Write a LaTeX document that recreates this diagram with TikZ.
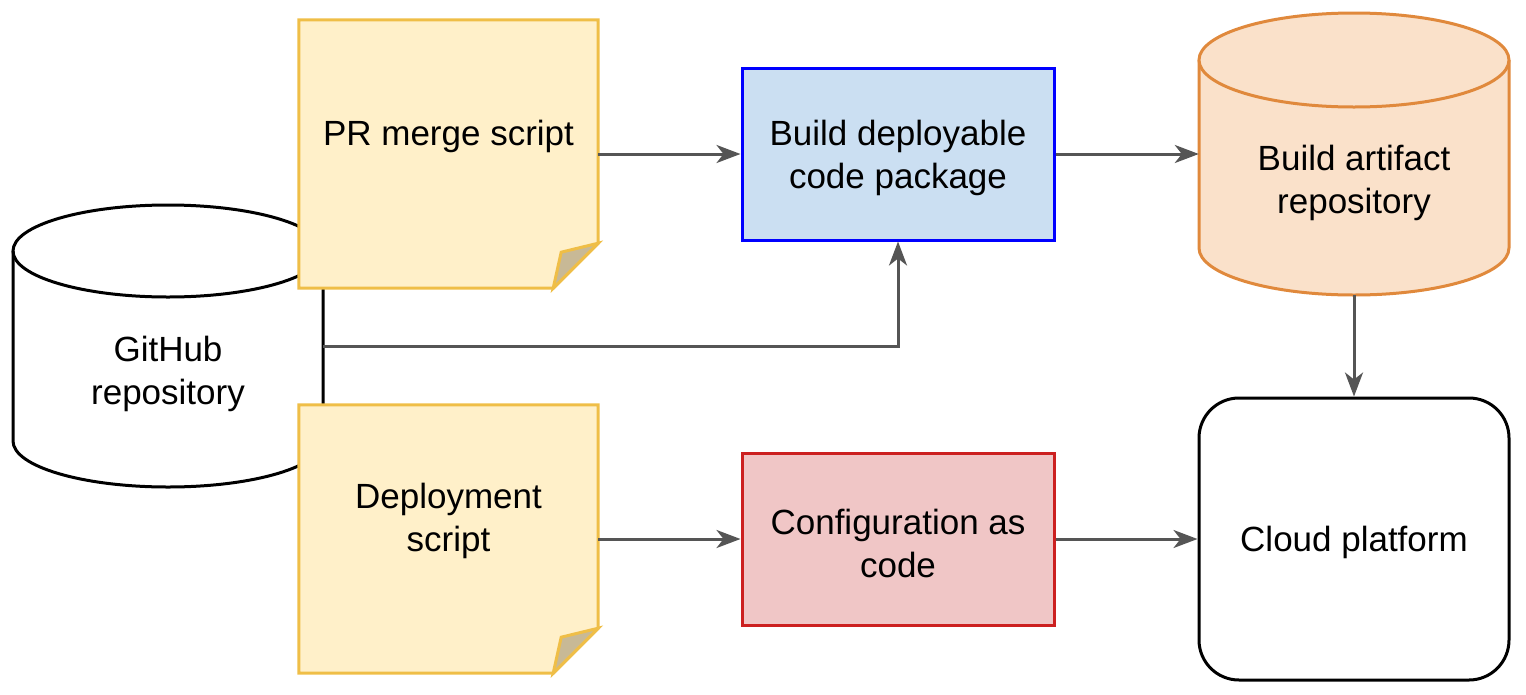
\documentclass[tikz,border=0pt]{standalone}
\usepackage{fontspec}
\setmainfont{Liberation Sans}
\usetikzlibrary{arrows.meta, positioning}

\definecolor{notefill}{HTML}{FFF0C9}
\definecolor{notedraw}{HTML}{EFBE47}
\definecolor{foldfill}{HTML}{C8B996}
\definecolor{buildfill}{HTML}{CBDFF2}
\definecolor{buildline}{HTML}{0000FF}
\definecolor{conffill}{HTML}{F0C6C6}
\definecolor{confline}{HTML}{CC2020}
\definecolor{artfill}{HTML}{FAE1CA}
\definecolor{artline}{HTML}{E0893C}
\definecolor{flowgray}{HTML}{555555}

\begin{document}
\begin{tikzpicture}[
  x=1pt, y=-1pt,
  font=\fontsize{35}{43}\selectfont,
  every node/.style={align=center, text=black},
  area/.style={draw=none, fill=none, inner sep=0pt, minimum width=#1},
  notebody/.style={draw=notedraw, fill=notefill, line width=3pt, line join=miter},
  foldpart/.style={draw=notedraw, fill=foldfill, line width=3pt, line join=miter},
  procbox/.style={draw=#1, line width=3pt, minimum width=312pt, minimum height=172pt, inner sep=0pt},
  flow/.style={draw=flowgray, line width=3pt, -{Stealth[length=24pt, width=18pt, inset=7pt]}}]

\useasboundingbox (0,0) rectangle (1526,694);

%GitHub repository cylinder
\node[area=310pt, minimum height=282pt] (git) at (168,346) {};
\filldraw[black, fill=white, line width=3pt] (13,251) -- (13,441)
  arc[start angle=180, end angle=360, x radius=155pt, y radius=46pt] -- (323,251);
\draw[black, line width=3pt] (168,251) ellipse[x radius=155pt, y radius=46pt];
\node (gittext) at (168,374) {GitHub\\repository};

%Notes with folded corner
\node[area=299pt, minimum height=268pt] (prnote) at (448.5,154) {};
\node[area=299pt, minimum height=268pt] (deploynote) at (448.5,539) {};
\foreach \n in {prnote, deploynote}{
  \draw[notebody] (\n.north west) -- (\n.north east) -- ([yshift=45pt]\n.south east)
    -- ([xshift=-45pt]\n.south east) -- (\n.south west) -- cycle;
  \draw[foldpart] ([yshift=45pt]\n.south east) -- ([xshift=-37pt, yshift=36pt]\n.south east)
    -- ([xshift=-45pt]\n.south east) -- cycle;
}
\node (prtext) at ([yshift=18pt]prnote.center) {PR merge script};
\node (deploytext) at ([yshift=18pt]deploynote.center) {Deployment\\script};

%Middle boxes
\node[procbox=buildline, fill=buildfill] (build) at (898,154) {};
\node (buildtext) at ([yshift=-4pt]build.center) {Build deployable\\code package};
\node[procbox=confline, fill=conffill] (conf) at (898,539) {};
\node (conftext) at ([yshift=-4pt]conf.center) {Configuration as\\code};

%Build artifact repository cylinder
\node[area=310pt, minimum height=282pt] (artifact) at (1354,154) {};
\filldraw[artline, fill=artfill, line width=3pt] (1199,60) -- (1199,248)
  arc[start angle=180, end angle=360, x radius=155pt, y radius=47pt] -- (1509,60);
\draw[artline, fill=artfill, line width=3pt] (1354,60) ellipse[x radius=155pt, y radius=47pt];
\node (arttext) at (1354,183) {Build artifact\\repository};

%Cloud platform
\node[draw=black, line width=3pt, rounded corners=40pt, minimum width=310pt,
  minimum height=282pt] (cloud) at (1354,539) {};
\node (cloudtext) at ([yshift=-3pt]cloud.center) {Cloud platform};

%Connectors
\draw[flow] (prnote.east) -- (build.west);
\draw[flow] (build.east) -- (artifact.west);
\draw[flow] (artifact.south) -- (cloud.north);
\draw[flow] (deploynote.east) -- (conf.west);
\draw[flow] (conf.east) -- (cloud.west);
\draw[flow] (git.east) -| (build.south);

\end{tikzpicture}
\end{document}
